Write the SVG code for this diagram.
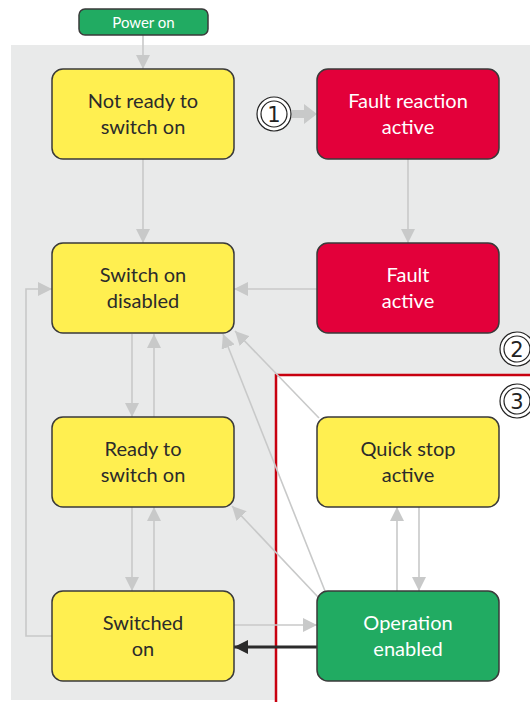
<svg xmlns="http://www.w3.org/2000/svg" width="530" height="702" viewBox="0 0 530 702">
<style>
.n rect{stroke:#3a3a3a;stroke-width:1.5}
.y rect{fill:#FFEF50}
.r rect{fill:#E3003A}
.g rect{fill:#21AB62}
text{font-family:"Lato","Liberation Sans",sans-serif;font-size:20px;text-anchor:middle}
.y text{fill:#2b2b2b}
.r text,.g text{fill:#fff}
.c{fill:none;stroke:#C8C9C9;stroke-width:1.6}
.k{fill:none;stroke:#2b2b2b;stroke-width:3}
.ci{fill:#fff;stroke:#222;stroke-width:1.2}
.cn{font-family:"DejaVu Sans",sans-serif;font-size:21px;fill:#222}
</style>
<defs>
<marker id="a" viewBox="0 0 14 14" refX="14" refY="7" markerWidth="14" markerHeight="14" markerUnits="userSpaceOnUse" orient="auto"><path d="M0,0L14,7L0,14z" fill="#C8C9C9"/></marker>
<marker id="b" viewBox="0 0 14 14" refX="14" refY="7" markerWidth="14" markerHeight="14" markerUnits="userSpaceOnUse" orient="auto"><path d="M0,0L14,7L0,14z" fill="#2b2b2b"/></marker>
</defs>
<rect x="11" y="45" width="519" height="655" fill="#E9EAEA"/>
<rect x="276" y="375" width="256" height="330" fill="#fff" stroke="#C8000F" stroke-width="2.5"/>
<g id="connectors">
<path class="c" d="M143,35V69" marker-end="url(#a)"/>
<path class="c" d="M143,159V243" marker-end="url(#a)"/>
<path class="c" d="M408,159V243" marker-end="url(#a)"/>
<path class="c" d="M317,289H234" marker-end="url(#a)"/>
<path class="c" d="M132,334V417" marker-end="url(#a)"/>
<path class="c" d="M154,417V334" marker-end="url(#a)"/>
<path class="c" d="M132,507V591" marker-end="url(#a)"/>
<path class="c" d="M154,591V507" marker-end="url(#a)"/>
<path class="c" d="M52,636H26V289H52" marker-end="url(#a)"/>
<path class="c" d="M234,625H317" marker-end="url(#a)"/>
<path class="k" d="M317,647H234" marker-end="url(#b)"/>
<path class="c" d="M419,507V591" marker-end="url(#a)"/>
<path class="c" d="M397,591V507" marker-end="url(#a)"/>
<path class="c" d="M318,597L232,506" marker-end="url(#a)"/>
<path class="c" d="M325,591L223,334" marker-end="url(#a)"/>
<path class="c" d="M319,418L235,331" marker-end="url(#a)"/>
<path d="M292,110H304V104L317,114L304,124V118H292z" fill="#C8C9C9"/>
</g>
<g id="power-on" class="n g"><rect x="79" y="9" width="129" height="26" rx="6"/><text x="143.5" y="27.5" style="font-size:15px">Power on</text></g>
<g id="not-ready" class="n y"><rect x="52" y="69" width="182" height="90" rx="11"/><text x="143" y="108">Not ready to</text><text x="143" y="134">switch on</text></g>
<g id="fault-reaction" class="n r"><rect x="317" y="69" width="182" height="90" rx="11"/><text x="408" y="108">Fault reaction</text><text x="408" y="134">active</text></g>
<g id="fault" class="n r"><rect x="317" y="243" width="182" height="90" rx="11"/><text x="408" y="282">Fault</text><text x="408" y="308">active</text></g>
<g id="switch-on-disabled" class="n y"><rect x="52" y="243" width="182" height="90" rx="11"/><text x="143" y="282">Switch on</text><text x="143" y="308">disabled</text></g>
<g id="ready" class="n y"><rect x="52" y="417" width="182" height="90" rx="11"/><text x="143" y="456">Ready to</text><text x="143" y="482">switch on</text></g>
<g id="switched-on" class="n y"><rect x="52" y="591" width="182" height="90" rx="11"/><text x="143" y="630">Switched</text><text x="143" y="656">on</text></g>
<g id="quick-stop" class="n y"><rect x="317" y="417" width="182" height="90" rx="11"/><text x="408" y="456">Quick stop</text><text x="408" y="482">active</text></g>
<g id="operation-enabled" class="n g"><rect x="317" y="591" width="182" height="90" rx="11"/><text x="408" y="630">Operation</text><text x="408" y="656">enabled</text></g>
<g id="m1"><circle class="ci" cx="274" cy="114" r="17"/><circle class="ci" cx="274" cy="114" r="13"/><text class="cn" x="274" y="121.5">1</text></g>
<g id="m2"><circle class="ci" cx="517" cy="349" r="17"/><circle class="ci" cx="517" cy="349" r="13"/><text class="cn" x="517" y="356.5">2</text></g>
<g id="m3"><circle class="ci" cx="517" cy="401" r="17"/><circle class="ci" cx="517" cy="401" r="13"/><text class="cn" x="517" y="408.5">3</text></g>
</svg>
